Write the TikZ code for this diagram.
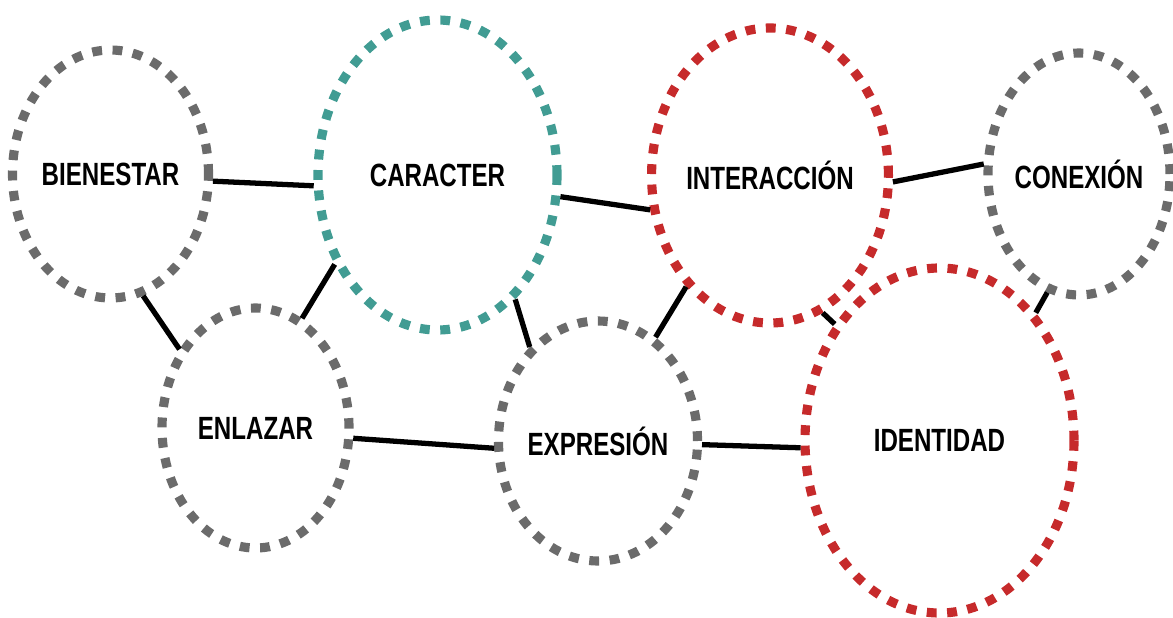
\documentclass[tikz,border=0pt]{standalone}
\usepackage{fontspec}
\setmainfont[FakeStretch=0.75]{Liberation Sans}
\usepackage{xcolor}
\usepackage{tikz}
\usetikzlibrary{shapes.geometric}
\definecolor{ringgray}{HTML}{6B6B6B}
\definecolor{ringteal}{HTML}{419C93}
\definecolor{ringred}{HTML}{C62A2B}

\begin{document}
\begin{tikzpicture}[
    ring/.style={ellipse, draw, line width=5.2pt, dash pattern=on 5.6pt off 6pt, inner sep=0pt, font=\fontsize{18.3}{21}\selectfont\bfseries, text=black},
    grayring/.style={ring, draw=ringgray},
    tealring/.style={ring, draw=ringteal},
    redring/.style={ring, draw=ringred},
    link/.style={line width=3pt, black},
]
    \useasboundingbox (0,0) rectangle (23.46,12.34);

    % Ring centres
    \coordinate (b) at (2.21,8.86);
    \coordinate (c) at (8.75,8.84);
    \coordinate (i) at (15.40,8.83);
    \coordinate (x) at (21.58,8.86);
    \coordinate (e) at (5.11,3.78);
    \coordinate (p) at (11.96,3.52);
    \coordinate (d) at (18.79,3.53);

    % Top row
    \node[grayring, minimum width=3.92cm, minimum height=4.96cm] (bienestar) at (b) {BIENESTAR};
    \node[tealring, minimum width=4.78cm, minimum height=6.2cm] (caracter) at (c) {CARACTER};
    \node[redring, minimum width=4.5cm, minimum height=5.9cm] (interaccion) at (i) {INTERACCIÓN};
    \node[grayring, minimum width=3.64cm, minimum height=4.84cm] (conexion) at (x) {CONEXIÓN};

    % Bottom row
    \node[grayring, minimum width=3.74cm, minimum height=4.8cm] (enlazar) at (e) {ENLAZAR};
    \node[grayring, minimum width=3.76cm, minimum height=4.8cm] (expresion) at (p) {EXPRESIÓN};
    \node[redring, minimum width=5.38cm, minimum height=6.9cm] (identidad) at (d) {IDENTIDAD};

    % Connectors
    \draw[link] (bienestar.-4.7) -- (caracter.185.8);
    \draw[link] (caracter.-10.4) -- (interaccion.196.3);
    \draw[link] (interaccion.-3.2) -- (conexion.174.3);
    \draw[link] (bienestar.-75.3) -- (enlazar.134.8);
    \draw[link] (enlazar.67.6) -- (caracter.221.4);
    \draw[link] (caracter.-58.3) -- (expresion.126.2);
    \draw[link] (expresion.61.1) -- (interaccion.233.2);
    \draw[link] (enlazar.-6.7) -- (expresion.184.9);
    \draw[link] (expresion.-2.5) -- (identidad.183.2);
    \draw[link] (interaccion.-69.3) -- (identidad.132.9);
    \draw[link] (conexion.255.8) -- (identidad.53.1);

\end{tikzpicture}
\end{document}
